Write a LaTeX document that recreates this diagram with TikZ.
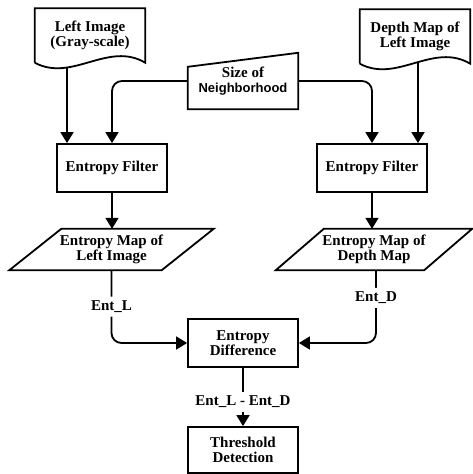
\documentclass[tikz,border=0pt]{standalone}
\usepackage{fontspec}
\setmainfont{Liberation Serif}
\setsansfont{Liberation Sans}
\usetikzlibrary{arrows.meta}

\tikzset{
  every node/.style={font=\bfseries\fontsize{15}{14.5}\selectfont, align=center, inner sep=0pt},
  edge/.style={line width=1.8pt},
  arr/.style={edge, -{Triangle[width=13pt,length=11pt]}},
  box/.style={draw, line width=1.8pt, minimum width=110, minimum height=48},
  doc/.style={minimum width=110, minimum height=54},
  map/.style={minimum height=41},
  lbl/.style={fill=white, inner sep=4pt}
}

\begin{document}
\begin{tikzpicture}[x=1pt, y=-1pt]
  \useasboundingbox (0,0) rectangle (472,474);

  % inputs
  \node[doc] (docL) at (90,35.5) {Left Image\\(Gray-scale)};
  \node[doc] (docR) at (415,36.5) {Depth Map of\\Left Image};
  \node[minimum width=110, minimum height=56] (size) at (243,81)
    {Size of\\{\sffamily\fontsize{13}{14}\selectfont Neighborhood}};

  % processing
  \node[box] (filtL) at (112,168) {Entropy Filter};
  \node[box] (filtR) at (372,168) {Entropy Filter};
  \node[map, minimum width=152] (mapL) at (111.5,249.5) {Entropy Map of\\Left Image};
  \node[map, minimum width=148] (mapR) at (374,249.5) {Entropy Map of\\Depth Map};
  \node[box] (diff) at (243,343) {Entropy\\Difference};
  \node[box, minimum height=46] (thr) at (243,450) {Threshold\\Detection};

  % outlines of the special shapes
  \foreach \n in {docL,docR}{% document shape with wavy bottom
    \draw[edge] (\n.south west) -- (\n.north west) -- (\n.north east) -- (\n.south east)
      .. controls +(-37,-22) and +(37,20) .. (\n.south west);
  }
  \foreach \n/\s in {mapL/26,mapR/24}{% slanted data boxes
    \draw[edge] ([shift={(-\s,0)}]\n.south west) -- ([shift={(-\s,0)}]\n.south east)
      -- ([shift={(\s,0)}]\n.north east) -- ([shift={(\s,0)}]\n.north west) -- cycle;
  }
  \draw[edge] ([shift={(0,14)}]size.north west) -- (size.north east)
    -- (size.south east) -- (size.south west) -- cycle;

  % connectors
  \coordinate (outL) at (67,67.5);
  \coordinate (outR) at (418,62.5);
  \draw[arr] (outL) -- (outL |- filtL.north);
  \draw[arr] (outR) -- (outR |- filtR.north);
  \draw[arr, rounded corners=10pt] (size.west) -| (filtL.north);
  \draw[arr, rounded corners=10pt] (size.east) -| (filtR.north);
  \draw[arr] (filtL.south) -- (filtL.south |- mapL.north);
  \draw[arr] (filtR.south) -- (filtR.south |- mapR.north);
  \draw[arr, rounded corners=10pt] (mapL.south) |- node[lbl, pos=0.25] {Ent\_L} (diff.west);
  \draw[arr, rounded corners=10pt] ([xshift=2]mapR.south) |- node[lbl, pos=0.19] {Ent\_D} (diff.east);
  \draw[arr] (diff.south) -- node[lbl, pos=0.58] {Ent\_L - Ent\_D} (thr.north);
\end{tikzpicture}
\end{document}
